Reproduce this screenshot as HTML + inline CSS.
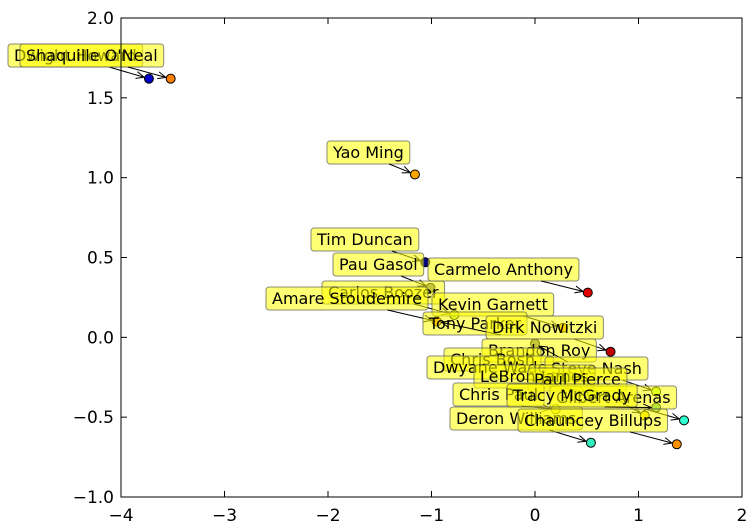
<!DOCTYPE html>
<html><head><meta charset="utf-8"><style>
body{margin:0;background:#fff;}
svg{display:block;font-family:"DejaVu Sans","Liberation Sans",sans-serif;}
</style></head><body>
<svg id="chart" width="754" height="532" viewBox="0 0 754 532">
<rect x="0" y="0" width="754" height="532" fill="#fff"/>
<g id="marks"></g>
<g id="labels"></g>
<rect x="121" y="18" width="621" height="479" fill="none" stroke="#000" stroke-width="1"/>
<g id="axes"></g>
</svg>
<script>
const names=["Dwight Howard","Shaquille O'Neal","Yao Ming","Tim Duncan","Pau Gasol","Carlos Boozer","Carmelo Anthony","Amare Stoudemire","Kevin Garnett","Tony Parker","Dirk Nowitzki","Brandon Roy","Chris Bosh","Dwyane Wade","Steve Nash","LeBron James","Paul Pierce","Gilbert Arenas","Chris Paul","Tracy McGrady","Deron Williams","Chauncey Billups"];
const xs=[-3.73,-3.52,-1.16,-1.06,-1.01,-0.78,0.51,-0.95,0.27,-0.95,0.73,0.0,0.3,0.15,1.17,0.55,1.06,1.44,0.2,1.17,0.54,1.37];
const ys=[1.62,1.62,1.02,0.47,0.31,0.14,0.28,0.10,0.06,0.10,-0.09,-0.04,-0.25,-0.28,-0.34,-0.35,-0.49,-0.52,-0.45,-0.44,-0.66,-0.67];
const colors=["#0000cc","#ff8000","#ffa500","#000080","#808080","#c0ff40","#e00000","#ffa500","#ffa500","#ff8c00","#c00000","#808080","#40a0ff","#ffff00","#c0ff40","#a0ff60","#ffe000","#30ffd0","#ffff30","#60c080","#30f0c0","#ff9000"];
const labelBoxes=[[8,44],[20,44],[327,141],[311,228],[333,253],[322,281],[428,258],[266,287],[432,293],[423,312],[486,316],[482,339],[444,348],[427,356],[545,357],[474,365],[528,368],[550,386],[453,383],[507,384],[450,407],[518,409]];
const xTicks=[-4,-3,-2,-1,0,1,2];
const yTicks=[-1.0,-0.5,0.0,0.5,1.0,1.5,2.0];
const X=v=>121+(v+4)*621/6;
const Y=v=>18+(2-v)*479/3;
const NS="http://www.w3.org/2000/svg";
function mk(t,a,p){const e=document.createElementNS(NS,t);for(const k in a)e.setAttribute(k,a[k]);p.appendChild(e);return e;}
const marks=document.getElementById('marks'),labels=document.getElementById('labels'),axes=document.getElementById('axes');
names.forEach((n,i)=>{
 const c=mk('circle',{cx:X(xs[i]),cy:Y(ys[i]),r:4.5,fill:colors[i],stroke:'#000','stroke-width':1},marks);
 
 
});
names.forEach((n,i)=>{
 const g=mk('g',{},labels);
 
 
 const bx=labelBoxes[i][0],by=labelBoxes[i][1];
 const t=mk('text',{x:bx+6,y:by+17,'font-size':16,fill:'#000'},g);t.textContent=n;
 const w=t.getComputedTextLength()+12;
 const r=mk('rect',{x:bx,y:by,width:w,height:23,rx:3,fill:'#ffff00','fill-opacity':0.55,stroke:'#555','stroke-opacity':0.7,'stroke-width':1},g);
 g.insertBefore(r,t);
 const sx=bx+w*0.75,sy=by+23,px=X(xs[i]),py=Y(ys[i]);
 const dx=px-sx,dy=py-sy,L=Math.hypot(dx,dy)||1,ux=dx/L,uy=dy/L;
 const ex=px-ux*5,ey=py-uy*5;
 mk('line',{x1:sx,y1:sy,x2:ex,y2:ey,stroke:'#000','stroke-width':1},g);
 mk('path',{d:`M${ex-ux*8-uy*3.5},${ey-uy*8+ux*3.5} L${ex},${ey} L${ex-ux*8+uy*3.5},${ey-uy*8-ux*3.5}`,fill:'none',stroke:'#000','stroke-width':1},g);
});
xTicks.forEach(v=>{const x=X(v);
 mk('line',{x1:x,y1:497,x2:x,y2:491,stroke:'#000'},axes);mk('line',{x1:x,y1:18,x2:x,y2:24,stroke:'#000'},axes);
 const t=mk('text',{x:x,y:521,'font-size':17,'text-anchor':'middle'},axes);t.textContent=v<0?'\u2212'+(-v):String(v);
 });
yTicks.forEach(v=>{const y=Y(v);
 mk('line',{x1:121,y1:y,x2:127,y2:y,stroke:'#000'},axes);mk('line',{x1:742,y1:y,x2:736,y2:y,stroke:'#000'},axes);
 const t=mk('text',{x:114,y:y+6,'font-size':17,'text-anchor':'end'},axes);t.textContent=(v<0?'\u2212':'')+Math.abs(v).toFixed(1);
 });
</script>
</body></html>
